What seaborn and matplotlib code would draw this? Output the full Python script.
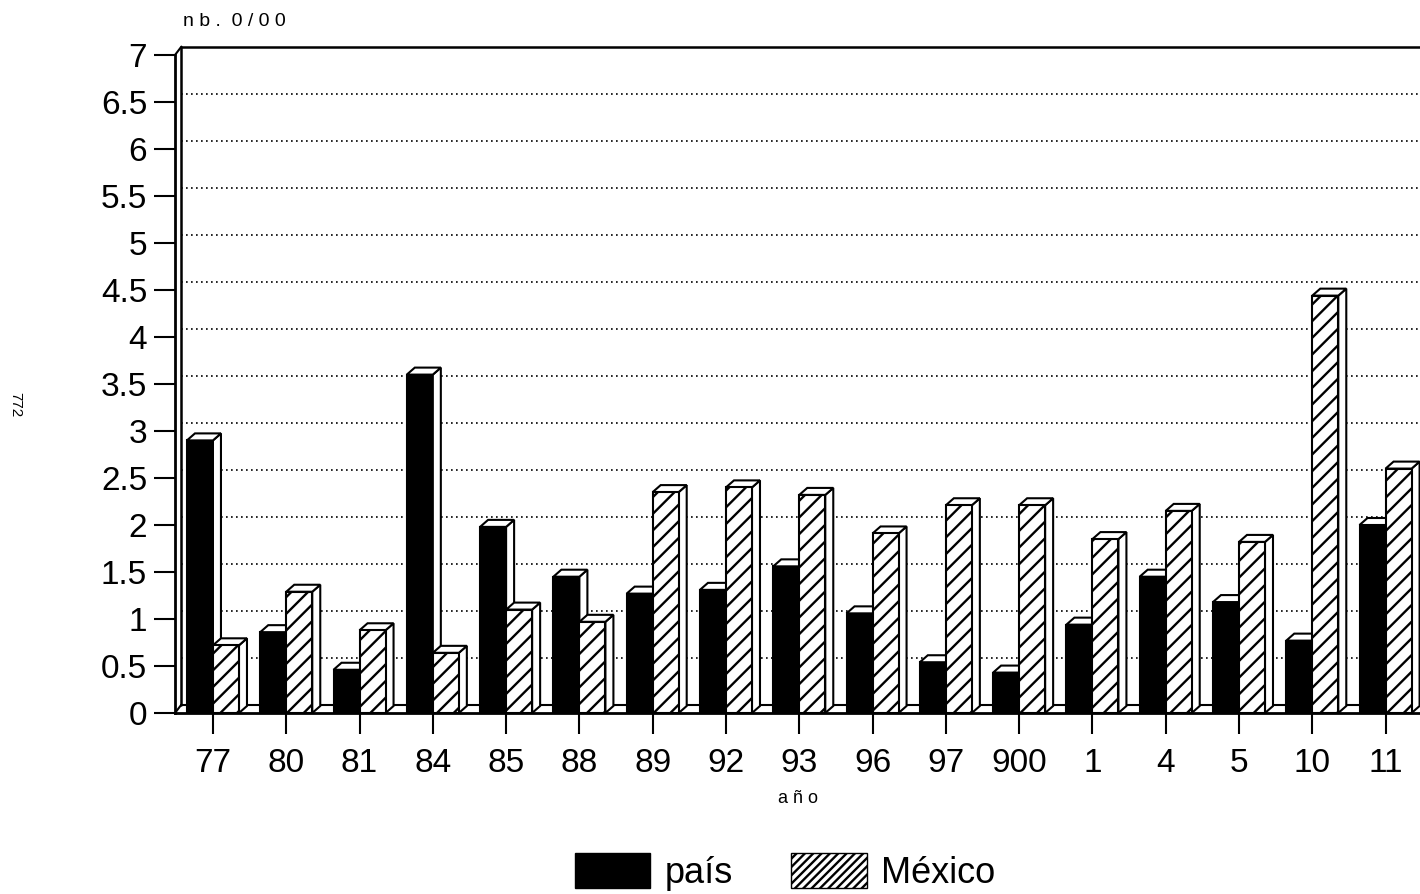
import pandas as pd
import numpy as np
import matplotlib
matplotlib.use("Agg")
import matplotlib.pyplot as plt
import matplotlib.transforms as mtransforms
from matplotlib.patches import Polygon, Patch
import seaborn as sns

# datos
anios = ["77", "80", "81", "84", "85", "88", "89", "92", "93", "96", "97",
         "900", "1", "4", "5", "10", "11"]
pais = [2.90, 0.86, 0.46, 3.60, 1.98, 1.45, 1.27, 1.31, 1.56, 1.06, 0.54,
        0.43, 0.94, 1.45, 1.18, 0.77, 2.00]
mexico = [0.72, 1.29, 0.88, 0.64, 1.10, 0.97, 2.35, 2.40, 2.32, 1.91, 2.21,
          2.21, 1.85, 2.15, 1.82, 4.44, 2.60]
series = ["país", "México"]
yticks = np.arange(0, 7.01, 0.5)

df = pd.DataFrame({"año": anios * 2,
                   "valor": pais + mexico,
                   "serie": [series[0]] * len(anios) + [series[1]] * len(anios)})

sns.set_style("white")
plt.rcParams['font.family'] = ['Liberation Sans', 'DejaVu Sans']
plt.rcParams['hatch.linewidth'] = 1.7
for k in ["text.color", "axes.labelcolor", "xtick.color", "ytick.color", "axes.edgecolor"]:
    plt.rcParams[k] = "black"

W, H, DPI = 1420, 894, 100
fig = plt.figure(figsize=(W / DPI, H / DPI), dpi=DPI)
ax = fig.add_axes([175 / W, (H - 713) / H, (W - 175) / W, (713 - 55) / H])

sns.barplot(data=df, x="año", y="valor", hue="serie", order=anios,
            hue_order=series, palette=["black", "white"], width=0.71,
            edgecolor="black", linewidth=1.5, saturation=1, legend=False, ax=ax)

ax.set_xlim(-0.518, 16.47)
ax.set_ylim(0, 7)

# profundidad 3D en pixeles
ddx, ddy = 8, 7
sx = (16.47 + 0.518) / (W - 175)
sy = 7 / (713 - 55)
dx, dy = ddx * sx, ddy * sy

n = len(anios)
for i, p in enumerate(ax.patches[:2 * n]):
    x0, w, h = p.get_x(), p.get_width(), p.get_height()
    z = 2 if i < n else 3
    if i >= n:
        p.set_hatch("//")
    p.set_zorder(z + 0.5 if i >= n else z)
    top = Polygon([(x0, h), (x0 + w, h), (x0 + w + dx, h + dy), (x0 + dx, h + dy)],
                  closed=True, facecolor="white", edgecolor="black", lw=1.5, zorder=z)
    side = Polygon([(x0 + w, 0), (x0 + w + dx, dy), (x0 + w + dx, h + dy), (x0 + w, h)],
                   closed=True, facecolor="white", edgecolor="black", lw=1.5, zorder=z)
    ax.add_patch(side)
    ax.add_patch(top)

# pared del fondo
off = mtransforms.ScaledTranslation(ddx / DPI * 0.8, ddy / DPI * 1.2, fig.dpi_scale_trans)
for y in yticks[1:-1]:
    ax.plot([0, 1], [y, y], transform=ax.get_yaxis_transform() + off,
            color="black", ls=(0, (1, 2)), lw=1.2, zorder=1, clip_on=False)
ax.plot([0, 1], [7, 7], transform=ax.get_yaxis_transform() + off,
        color="black", lw=1.8, zorder=1, clip_on=False)
ax.plot([0, 1], [0, 0], transform=ax.get_yaxis_transform() + off,
        color="black", lw=1.5, zorder=1, clip_on=False)
ax.plot([0, 0], [0, 7], transform=ax.get_yaxis_transform() + off,
        color="black", lw=1.8, zorder=1, clip_on=False)
ax.plot([0, ddx * 0.8 / (W - 175)], [1, 1 + ddy * 1.2 / (713 - 55)],
        transform=ax.transAxes, color="black", lw=1.5, clip_on=False)
ax.plot([0, ddx * 0.8 / (W - 175)], [0, ddy * 1.2 / (713 - 55)],
        transform=ax.transAxes, color="black", lw=1.5, clip_on=False)

sns.despine(ax=ax, top=True, right=True)
for s in ["left", "bottom"]:
    ax.spines[s].set_linewidth(2)
    ax.spines[s].set_zorder(5)

ax.set_yticks(yticks)
ax.set_yticklabels([f"{v:g}" for v in yticks], fontsize=24)
ax.set_xticks(range(n))
ax.set_xticklabels(anios, fontsize=24)
ax.tick_params(axis="y", direction="out", length=15, width=1.5, pad=5, left=True)
ax.tick_params(axis="x", direction="out", length=15, width=1.5, pad=10, bottom=True)

ax.set_xlabel("a ñ o", fontsize=13, labelpad=8)
ax.set_ylabel("")
fig.text(183 / W, 1 - 22 / H, "n b .  0 / 0 0", fontsize=14, ha="left", va="center")
fig.text(15 / W, 1 - 405 / H, "772", fontsize=11, rotation=-90, ha="center", va="center")

handles = [Patch(facecolor="black", edgecolor="black", label=series[0]),
           Patch(facecolor="white", edgecolor="black", hatch="////", label=series[1])]
fig.legend(handles=handles, loc="center", bbox_to_anchor=(785 / W, 1 - 872 / H),
           ncol=2, frameon=False, fontsize=26, handlelength=2.1, handleheight=1.1,
           columnspacing=1.6, handletextpad=0.4)

fig.savefig("out.png", dpi=DPI)
